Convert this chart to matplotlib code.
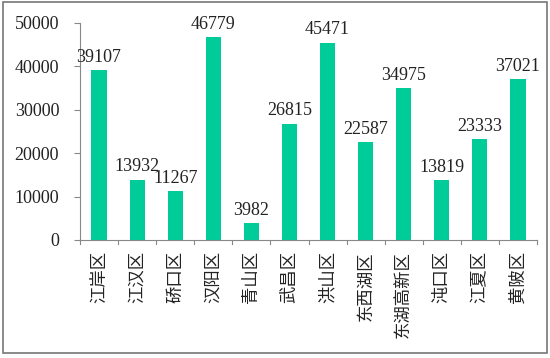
import matplotlib
matplotlib.use("Agg")
import matplotlib.pyplot as plt
from matplotlib.patches import Rectangle

categories = ["江岸区", "江汉区", "硚口区", "汉阳区", "青山区", "武昌区", "洪山区",
              "东西湖区", "东湖高新区", "沌口区", "江夏区", "黄陂区"]
values = [39107, 13932, 11267, 46779, 3982, 26815, 45471, 22587, 34975, 13819, 23333, 37021]
yticks = [0, 10000, 20000, 30000, 40000, 50000]

fig = plt.figure(figsize=(5.5, 3.58), dpi=100)
ax = fig.add_axes([80/550, 1-240/358, 457/550, 217/358])

x = list(range(len(values)))
bars = ax.bar(x, values, width=0.4, color="#00CC99", zorder=2)
ax.set_xlim(-0.5, len(values)-0.5)
ax.set_ylim(0, 50000)
ax.set_yticks(yticks)
ax.set_yticklabels([str(v) for v in yticks], family=["Liberation Serif", "DejaVu Serif"], fontsize=13, color="#222222")
ax.set_xticks(x)
ax.set_xticklabels(categories, rotation=90, family=["Noto Sans CJK SC", "DejaVu Sans"], fontsize=12.5, color="#222222")
ax.tick_params(axis="x", length=0, pad=8)
ax.tick_params(axis="y", length=4, color="#888888", direction="out", pad=11)
# boundary ticks on x axis
for b in [i - 0.5 for i in range(len(values)+1)]:
    ax.plot([b, b], [0, -1000], color="#888888", lw=0.8, clip_on=False, zorder=3)
for s in ["top", "right"]:
    ax.spines[s].set_visible(False)
for s in ["left", "bottom"]:
    ax.spines[s].set_color("#888888")
    ax.spines[s].set_linewidth(0.8)

for xi, v in zip(x, values):
    ax.annotate(str(v), (xi, v), xytext=(0, 3), textcoords="offset points",
                ha="center", va="bottom", family=["Liberation Serif", "DejaVu Serif"],
                fontsize=13, color="#222222")

fig.patches.append(Rectangle((3/550, 1-353/358), 544/550, 351/358, transform=fig.transFigure,
                             fill=False, edgecolor="#777777", lw=1.2))
fig.savefig("out.png", dpi=100)
